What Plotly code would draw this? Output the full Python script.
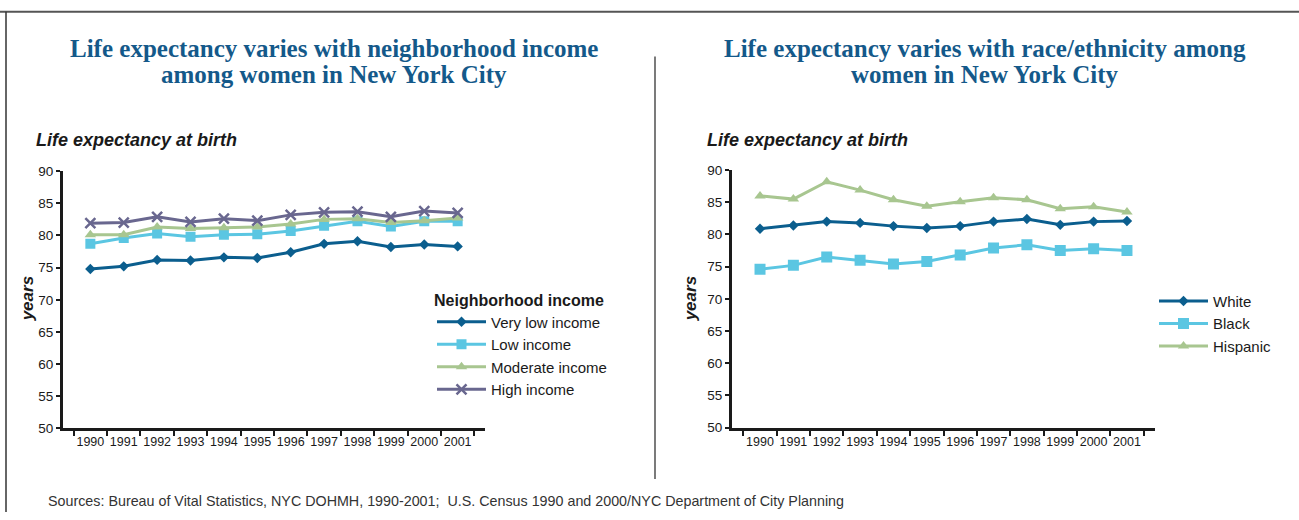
import plotly.graph_objects as go

W, H = 1299, 520

years = ["1990", "1991", "1992", "1993", "1994", "1995", "1996", "1997", "1998", "1999", "2000", "2001"]

# Left chart: neighborhood income
very_low = [74.8, 75.2, 76.2, 76.1, 76.6, 76.5, 77.4, 78.7, 79.1, 78.2, 78.6, 78.3]
low = [78.7, 79.6, 80.3, 79.8, 80.1, 80.2, 80.7, 81.5, 82.2, 81.4, 82.2, 82.2]
moderate = [80.1, 80.1, 81.3, 81.1, 81.2, 81.3, 81.8, 82.5, 82.6, 82.0, 82.3, 82.7]
high = [81.9, 82.0, 82.9, 82.1, 82.6, 82.3, 83.2, 83.6, 83.7, 82.9, 83.8, 83.5]

# Right chart: race/ethnicity
white = [80.9, 81.4, 82.0, 81.8, 81.3, 81.0, 81.3, 82.0, 82.4, 81.5, 82.0, 82.1]
black = [74.6, 75.2, 76.5, 76.0, 75.4, 75.8, 76.8, 77.9, 78.4, 77.5, 77.8, 77.5]
hispanic = [86.0, 85.5, 88.2, 86.9, 85.4, 84.4, 85.1, 85.7, 85.4, 84.0, 84.3, 83.5]

C_DARK = "#0b5e8e"
C_LIGHT = "#5bc6e2"
C_GREEN = "#a8c690"
C_PURPLE = "#69678f"
TITLE_C = "#14598a"
SANS = "Liberation Sans, Arial, sans-serif"
SERIF = "Liberation Serif, Times New Roman, serif"

def px(x):
    return x / W

def py(y):
    return 1 - y / H

fig = go.Figure()

def add(x, y, name, color, symbol, size, xa, ya, legend, mline=None):
    marker = dict(symbol=symbol, size=size, color=color)
    if mline:
        marker["line"] = dict(color=color, width=mline)
    fig.add_trace(go.Scatter(
        x=x, y=y, name=name, mode="lines+markers",
        line=dict(color=color, width=3),
        marker=marker, xaxis=xa, yaxis=ya, legend=legend,
        hoverinfo="x+y+name"))

add(years, very_low, "Very low income", C_DARK, "diamond", 8, "x", "y", "legend")
add(years, low, "Low income", C_LIGHT, "square", 10, "x", "y", "legend")
add(years, moderate, "Moderate income", C_GREEN, "triangle-up", 10, "x", "y", "legend")
add(years, high, "High income", C_PURPLE, "x-thin-open", 10, "x", "y", "legend", mline=2.5)

add(years, white, "White", C_DARK, "diamond", 8, "x2", "y2", "legend2")
add(years, black, "Black", C_LIGHT, "square", 11, "x2", "y2", "legend2")
add(years, hispanic, "Hispanic", C_GREEN, "triangle-up", 10, "x2", "y2", "legend2")

xcommon = dict(type="category", tickson="boundaries", ticks="outside", ticklen=5,
               tickwidth=2, tickcolor="#1a1a1a", showline=True, linecolor="#1a1a1a",
               linewidth=3, showgrid=False, zeroline=False, tickangle=0,
               tickfont=dict(family=SANS, size=12.5, color="#1a1a1a"))
ycommon = dict(range=[50, 90], dtick=5, ticks="outside", ticklen=4, tickwidth=2,
               tickcolor="#1a1a1a", showline=True, linecolor="#1a1a1a", linewidth=3,
               showgrid=False, zeroline=False,
               tickfont=dict(family=SANS, size=13.5, color="#1a1a1a"))

fig.update_layout(
    width=W, height=H,
    margin=dict(l=0, r=0, t=0, b=0),
    paper_bgcolor="white", plot_bgcolor="white",
    xaxis=dict(domain=[px(63), px(485)], anchor="y", **xcommon),
    yaxis=dict(domain=[py(434), py(169)], anchor="x", **ycommon),
    xaxis2=dict(domain=[px(732), px(1155)], anchor="y2", **xcommon),
    yaxis2=dict(domain=[py(433), py(168)], anchor="x2", **ycommon),
    legend=dict(x=px(432), y=py(286), xanchor="left", yanchor="top",
                bgcolor="rgba(0,0,0,0)",
                title=dict(text="<b>Neighborhood income</b>",
                           font=dict(family=SANS, size=16, color="#1a1a1a")),
                font=dict(family=SANS, size=15, color="#1a1a1a"),
                tracegroupgap=0, itemwidth=49),
    legend2=dict(x=px(1154), y=py(286), xanchor="left", yanchor="top",
                 bgcolor="rgba(0,0,0,0)",
                 font=dict(family=SANS, size=15, color="#1a1a1a"),
                 tracegroupgap=0, itemwidth=49),
    showlegend=True,
)

TS = 25
annotations = [
    dict(text="<b>Life expectancy varies with neighborhood income</b>",
         x=px(334), y=py(43), font=dict(family=SERIF, size=TS, color=TITLE_C)),
    dict(text="<b>among women in New York City</b>",
         x=px(334), y=py(70), font=dict(family=SERIF, size=TS, color=TITLE_C)),
    dict(text="<b>Life expectancy varies with race/ethnicity among</b>",
         x=px(985), y=py(43), font=dict(family=SERIF, size=TS, color=TITLE_C)),
    dict(text="<b>women in New York City</b>",
         x=px(985), y=py(70), font=dict(family=SERIF, size=TS, color=TITLE_C)),
    dict(text="<b><i>Life expectancy at birth</i></b>", x=px(34), y=py(137),
         xanchor="left", font=dict(family=SANS, size=18, color="#1a1a1a")),
    dict(text="<b><i>Life expectancy at birth</i></b>", x=px(705), y=py(137),
         xanchor="left", font=dict(family=SANS, size=18, color="#1a1a1a")),
    dict(text="<b><i>years</i></b>", x=px(27), y=py(300), textangle=-90,
         font=dict(family=SANS, size=17, color="#1a1a1a")),
    dict(text="<b><i>years</i></b>", x=px(690), y=py(300), textangle=-90,
         font=dict(family=SANS, size=17, color="#1a1a1a")),
    dict(text="Sources: Bureau of Vital Statistics, NYC DOHMH, 1990-2001;  U.S. Census 1990 and 2000/NYC Department of City Planning",
         x=px(46), y=py(509), xanchor="left",
         font=dict(family=SANS, size=14.3, color="#333333")),
]
for a in annotations:
    a.setdefault("xanchor", "center")
    a.update(xref="paper", yref="paper", yanchor="middle", showarrow=False)
fig.update_layout(annotations=annotations)

shapes = [
    dict(type="line", x0=0, x1=1, y0=py(5), y1=py(5), line=dict(color="#555555", width=2)),
    dict(type="line", x0=px(6), x1=px(6), y0=py(5), y1=0, line=dict(color="#333333", width=1.5)),
    dict(type="line", x0=px(655), x1=px(655), y0=py(51), y1=py(486), line=dict(color="#222222", width=1.2)),
]
for s in shapes:
    s.update(xref="paper", yref="paper")
fig.update_layout(shapes=shapes)

fig.write_html("out.html", config={"displayModeBar": False},
               post_script="document.body.style.margin='0';document.body.style.overflow='hidden';")
